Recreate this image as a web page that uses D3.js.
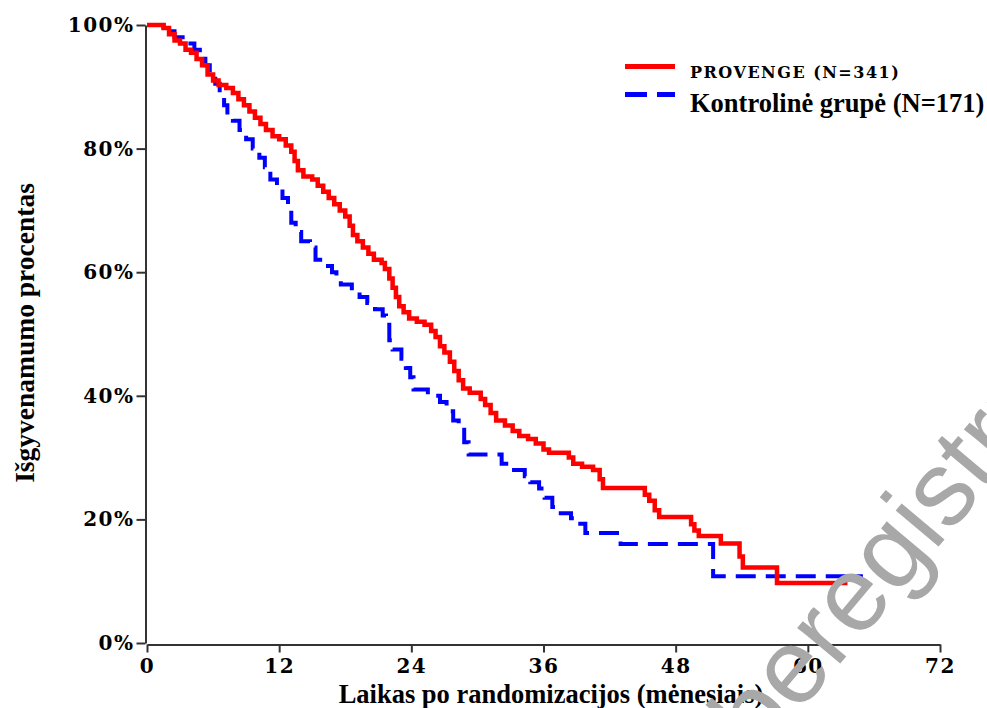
<!DOCTYPE html>
<html>
<head>
<meta charset="utf-8">
<script src="https://cdn.jsdelivr.net/npm/d3@7"></script>
<style>
  body { margin: 0; background: #fff; }
  svg { display: block; }
</style>
</head>
<body>
<div id="chart"></div>
<script>
// Kaplan-Meier steps: [month, survival %]
const provengeSteps = [
  [0, 100], [1.5, 99.5], [2, 98.5], [2.5, 97.5], [3, 97], [3.5, 96], [4, 95.5], [4.5, 94.5],
  [5, 93.5], [5.5, 92], [6, 91], [6.5, 90.3], [7.2, 89.8], [7.8, 89], [8.3, 88], [8.8, 87],
  [9.3, 86], [9.8, 85], [10.3, 84], [10.8, 83], [11.4, 82], [12, 81.5], [12.6, 80.5], [13.1, 79.5],
  [13.4, 78], [13.7, 76.5], [14.2, 75.5], [15, 75], [15.5, 74], [16, 73], [16.5, 72], [17, 71],
  [17.5, 70], [18, 69], [18.4, 67.5], [18.7, 66], [19.1, 65], [19.6, 64], [20.1, 63], [20.6, 62],
  [21.3, 61.5], [21.6, 60.5], [22, 59], [22.3, 57.5], [22.6, 56], [22.9, 54.5], [23.3, 53.5], [23.8, 52.5],
  [24.5, 52], [25.2, 51.5], [25.8, 50.5], [26.2, 49.5], [26.6, 48], [27, 47], [27.5, 45.5], [27.9, 44],
  [28.3, 42.5], [28.7, 41.2], [29.3, 40.5], [30.3, 39.5], [30.7, 38.5], [31.2, 37.2], [31.7, 36], [32.5, 35.2],
  [33.2, 34.3], [33.8, 33.5], [34.6, 33], [35.3, 32.3], [36, 31.3], [36.5, 30.8], [38.3, 30], [38.7, 29],
  [39.5, 28.5], [40.5, 28], [41.1, 26.5], [41.4, 25.1], [45.2, 24], [45.6, 23], [46.1, 21.5], [46.5, 20.4],
  [49.4, 19.2], [49.7, 18.2], [50.1, 17.3], [52.1, 16.1], [53.8, 14], [54.1, 12.2], [57.2, 9.7], [63.6, 9.7]
];

const controlSteps = [
  [0, 100], [1.5, 99], [2.5, 98], [3.5, 97], [4.3, 96], [4.8, 95], [5.3, 93.5], [5.7, 92],
  [6.2, 90.5], [6.6, 89], [7, 87], [7.3, 85.5], [7.8, 84.5], [8.4, 83], [9, 81.5], [9.6, 80],
  [10.2, 78.5], [10.7, 77], [11.2, 75], [11.8, 73.5], [12.3, 72], [12.8, 70], [13.1, 68], [13.5, 66.5],
  [14, 65], [14.8, 64], [15.3, 62], [16, 61], [16.8, 60], [17.2, 59], [17.6, 58], [18.6, 57],
  [19.3, 56], [20, 55], [20.7, 54], [21.4, 53], [21.7, 51.5], [22, 49], [22.3, 47.5], [23.1, 46],
  [23.5, 44.5], [23.9, 43], [24.2, 41], [25.5, 40], [26.6, 39], [27.2, 37.5], [27.8, 36], [28.3, 34.5],
  [28.8, 32.5], [29.2, 30.5], [32.2, 29], [32.8, 28], [34.3, 27], [34.8, 26], [35.6, 25], [36.1, 23.5],
  [36.8, 22], [37.3, 21], [38.5, 20.2], [39, 19.3], [39.8, 17.8], [43, 16], [51.4, 10.8], [65, 10.8]
];

const xTicks = [0, 12, 24, 36, 48, 60, 72];
const yTicks = [0, 20, 40, 60, 80, 100];
const legendLabels = ['PROVENGE (N=341)', 'Kontrolinė grupė (N=171)'];

const width = 987;
const height = 708;

const svg = d3.select('#chart')
  .append('svg')
  .attr('width', width)
  .attr('height', height);

// scales
const x = d3.scaleLinear().domain([0, 72]).range([147, 940]);
const y = d3.scaleLinear().domain([0, 100]).range([643, 25]);

const tickFont = 'DejaVu Serif, serif';
const titleFont = 'Liberation Serif, Times New Roman, serif';

// y axis
const yAxis = svg.append('g')
  .attr('transform', 'translate(145.5,0)')
  .call(d3.axisLeft(y).tickValues(yTicks).tickSize(9).tickSizeOuter(0).tickPadding(2)
    .tickFormat(d => d + '%'));

// x axis
const xAxis = svg.append('g')
  .attr('transform', 'translate(0,644.5)')
  .call(d3.axisBottom(x).tickValues(xTicks).tickSize(8).tickSizeOuter(0).tickPadding(6));

[xAxis, yAxis].forEach(g => {
  g.select('.domain').attr('stroke', '#333').attr('stroke-width', 2);
  g.selectAll('.tick line').attr('stroke', '#333').attr('stroke-width', 2);
  g.selectAll('.tick text')
    .attr('fill', '#000')
    .style('font-family', tickFont)
    .style('font-weight', 'bold')
    .style('font-size', '20px')
    .style('letter-spacing', '1.5px');
});

// survival curves
const line = d3.line()
  .x(d => x(d[0]))
  .y(d => y(d[1]))
  .curve(d3.curveStepAfter);

svg.append('path')
  .datum(controlSteps)
  .attr('fill', 'none')
  .attr('stroke', '#0000ff')
  .attr('stroke-width', 4)
  .attr('stroke-dasharray', '20,10')
  .attr('d', line);

svg.append('path')
  .datum(provengeSteps)
  .attr('fill', 'none')
  .attr('stroke', '#ff0000')
  .attr('stroke-width', 4.5)
  .attr('d', line);

// axis titles
svg.append('text')
  .attr('x', 551)
  .attr('y', 703)
  .attr('text-anchor', 'middle')
  .style('font-family', titleFont)
  .style('font-weight', 'bold')
  .style('font-size', '26.5px')
  .text('Laikas po randomizacijos (mėnesiais)');

svg.append('text')
  .attr('transform', 'translate(34,333) rotate(-90)')
  .attr('text-anchor', 'middle')
  .style('font-family', titleFont)
  .style('font-weight', 'bold')
  .style('font-size', '27.5px')
  .text('Išgyvenamumo procentas');

// legend
const legend = svg.append('g');

legend.append('line')
  .attr('x1', 625).attr('x2', 675)
  .attr('y1', 66.5).attr('y2', 66.5)
  .attr('stroke', '#ff0000')
  .attr('stroke-width', 5);

legend.append('text')
  .attr('x', 690)
  .attr('y', 78)
  .style('font-family', tickFont)
  .style('font-weight', 'bold')
  .style('font-size', '16px')
  .style('letter-spacing', '1.5px')
  .text(legendLabels[0]);

legend.append('line')
  .attr('x1', 625).attr('x2', 675)
  .attr('y1', 94.5).attr('y2', 94.5)
  .attr('stroke', '#0000ff')
  .attr('stroke-width', 5)
  .attr('stroke-dasharray', '22,10');

legend.append('text')
  .attr('x', 690)
  .attr('y', 112)
  .style('font-family', titleFont)
  .style('font-weight', 'bold')
  .style('font-size', '26.5px')
  .text(legendLabels[1]);

// watermark
svg.append('text')
  .attr('transform', 'translate(684,850) rotate(-50)')
  .style('font-family', 'Liberation Sans, Arial, sans-serif')
  .style('font-size', '106px')
  .attr('fill', '#a8a8a8')
  .text('neberegistruotas');
</script>
</body>
</html>
